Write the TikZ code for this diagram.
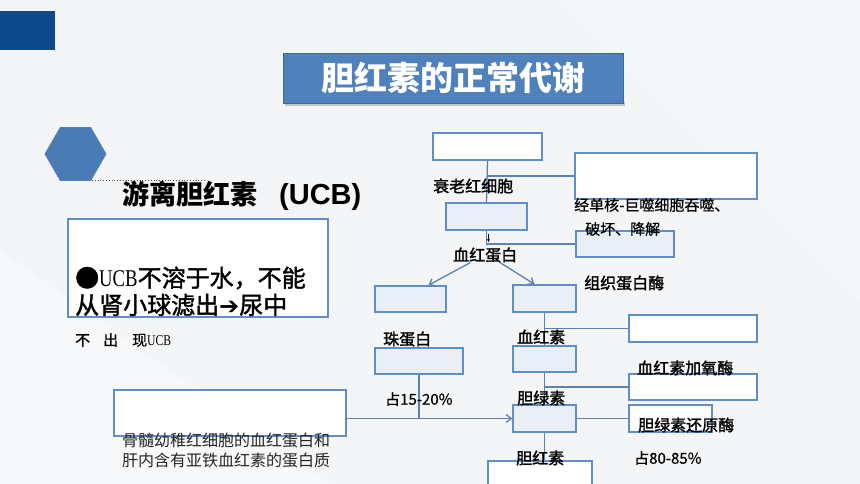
\documentclass[tikz,border=0pt]{standalone}
\usepackage{fontspec}
\setmainfont{Noto Sans CJK SC}
\newfontfamily\medcjk[FakeBold=1.6]{Noto Sans CJK SC}
\newfontfamily\thincjk[FakeBold=0.6]{Noto Sans CJK SC}
\newfontfamily\symb{DejaVu Sans}
\newfontfamily\latsans{Liberation Sans}
\newfontfamily\latserif[FakeStretch=0.78]{Liberation Serif}
\usetikzlibrary{arrows.meta,positioning,shapes.geometric}
\definecolor{darkblue}{RGB}{12,74,140}
\definecolor{bannerblue}{RGB}{79,129,189}
\definecolor{edgeblue}{RGB}{98,142,199}
\definecolor{linkblue}{RGB}{92,130,180}
\definecolor{bg}{RGB}{243,245,247}

\begin{document}
\begin{tikzpicture}[x=1pt, y=-1pt,
  box/.style={draw=edgeblue, line width=1.6pt, fill=white, inner sep=0pt},
  tintbox/.style={box, fill=edgeblue!14!white},
  link/.style={draw=linkblue, line width=1.3pt},
  lbl/.style={anchor=west, inner sep=0pt, font=\fontsize{16}{18}\selectfont\medcjk},
  note/.style={anchor=west, inner sep=0pt, text=black, font=\fontsize{15}{18}\selectfont\thincjk},
  >={Straight Barb[length=5pt,width=8pt]}]

	% background
	\fill[bg] (0,0) rectangle (860,484);
	\useasboundingbox (0,0) rectangle (860,484);
	\fill[white, opacity=0.35] (0,250) -- (330,484) -- (0,484) -- cycle;
	\fill[white, opacity=0.25] (560,0) -- (860,0) -- (860,300) -- cycle;
	\fill[darkblue] (0,11) rectangle (55,50);

	% title
	\fill[gray!45] (285,101) rectangle (625,106);
	\node[fill=bannerblue, draw=bannerblue!80!black, line width=0.6pt, minimum width=340pt, minimum height=50pt, text=white, font=\fontsize{33}{36}\selectfont\bfseries] (banner) at (453,78) {胆红素的正常代谢};

	\node[regular polygon, regular polygon sides=6, minimum size=61pt, inner sep=0pt, fill=bannerblue!95!black, draw=darkblue!70, line width=0.8pt] (hex) at (75.5,154) {};
	\coordinate (dotstart) at (92,180);
	\coordinate (dotend) at (205,180);
	\draw[dotted, black!70, line width=0.8pt] (dotstart) -- (dotend);

	\node[anchor=west, inner sep=0pt, font=\fontsize{27}{30}\selectfont\bfseries] (ucbhead) at (122,196) {游离胆红素\hspace{22pt}{\latsans\fontsize{29}{30}\selectfont (UCB)}};

	% left boxes
	\node[box, minimum width=260pt, minimum height=98pt] (ucbbox) at (198,268) {};
	\node[anchor=west, inner sep=0pt, font=\fontsize{24}{28}\selectfont\medcjk] (ucbline1) at (75,278) {●{\latserif UCB}不溶于水，不能};
	\node[anchor=west, inner sep=0pt, font=\fontsize{24}{28}\selectfont\medcjk] (ucbline2) at (75,305) {从肾小球滤出{\symb\bfseries ➔}尿中};
	\node[note] (noucb) at (75,340) {不\hspace{13pt}出\hspace{14pt}现{\latserif UCB}};

	\node[box, minimum width=232pt, minimum height=46pt] (srcbox) at (230,413) {};
	\node[note, text=black!85, font=\fontsize{16}{18}\selectfont] (srcline1) at (122,440) {骨髓幼稚红细胞的血红蛋白和};
	\node[note, text=black!85, font=\fontsize{16}{18}\selectfont] (srcline2) at (122,460) {肝内含有亚铁血红素的蛋白质};

	% flow boxes
	\node[box, minimum width=109pt, minimum height=27pt] (senA) at (487.5,146.5) {};
	\node[box, minimum width=182pt, minimum height=46pt] (phago) at (666,176) {};
	\node[tintbox, minimum width=81pt, minimum height=27pt] (senB) at (486.5,216.5) {};
	\node[tintbox, minimum width=98pt, minimum height=26pt] (catheps) at (625,244) {};
	\node[tintbox, minimum width=71pt, minimum height=26pt] (globA) at (410.5,299) {};
	\node[tintbox, minimum width=63pt, minimum height=27pt] (hemeA) at (544.5,298.5) {};
	\node[tintbox, minimum width=88pt, minimum height=26pt] (globB) at (419,361) {};
	\node[tintbox, minimum width=63pt, minimum height=26pt] (hemeB) at (544.5,359) {};
	\node[box, minimum width=128pt, minimum height=27pt] (oxy) at (693,328.5) {};
	\node[box, minimum width=128pt, minimum height=26pt] (oxyB) at (693,387) {};
	\node[tintbox, minimum width=63pt, minimum height=27pt] (bv) at (544.5,418.5) {};
	\node[box, minimum width=83pt, minimum height=27pt] (red) at (670.5,418.5) {};
	\node[box, minimum width=104pt, minimum height=30pt] (br) at (540,476) {};

	% connectors
	\coordinate (phjoin) at (senA.south |- phago.west);
	\coordinate (cathjoin) at (senB.south |- catheps.west);
	\coordinate (oxyjoin) at (hemeA.south |- oxy.west);
	\coordinate (oxyBjoin) at (hemeB.south |- oxyB.west);
	\coordinate (globjoin) at (globB.south |- bv.west);
	\draw[link] (senA.south) -- (senB.north);
	\draw[link] (phjoin) -- (phago.west);
	\draw[link] (senB.south) -- (cathjoin) -- (catheps.west);
	\draw[-{Stealth[length=3pt,width=3pt]}, black, line width=0.5pt] ([xshift=2pt,yshift=-3pt]senB.south) -- ([xshift=2pt,yshift=2pt]cathjoin);
	\node[lbl] (hblbl) at (453,255) {血红蛋白};
	\draw[link, ->] ([xshift=-15pt]hblbl.south) -- ([xshift=18pt]globA.north);
	\draw[link, ->] ([xshift=15pt]hblbl.south) -- ([xshift=-10pt]hemeA.north);
	\draw[link] (hemeA.south) -- (hemeB.north);
	\draw[link] (oxyjoin) -- (oxy.west);
	\draw[link] (hemeB.south) -- (bv.north);
	\draw[link] (oxyBjoin) -- (oxyB.west);
	\draw[link] (bv.east) -- (red.west);
	\draw[link] (bv.south) -- (bv.south |- br.north);
	\draw[link] (globB.south) -- (globjoin);
	\draw[link, ->] (srcbox.east |- bv.west) -- (bv.west);

	% labels
	\node[lbl] (senlbl) at (433,186) {衰老红细胞};
	\node[note] (phlbl1) at (574,205) {经单核-巨噬细胞吞噬、};
	\node[note] (phlbl2) at (585,229) {破坏、降解};
	\node[lbl] (cathlbl) at (584,283) {组织蛋白酶};
	\node[lbl] (globlbl) at (383,339) {珠蛋白};
	\node[lbl] (hemelbl) at (517,337) {血红素};
	\node[lbl] (oxylbl) at (637,368) {血红素加氧酶};
	\node[note] (pct1) at (385,399) {占15-20\%};
	\node[lbl] (bvlbl) at (517,398) {胆绿素};
	\node[lbl] (redlbl) at (638,425) {胆绿素还原酶};
	\node[lbl] (brlbl) at (516,458) {胆红素};
	\node[note] (pct2) at (634,458) {占80-85\%};
\end{tikzpicture}
\end{document}
